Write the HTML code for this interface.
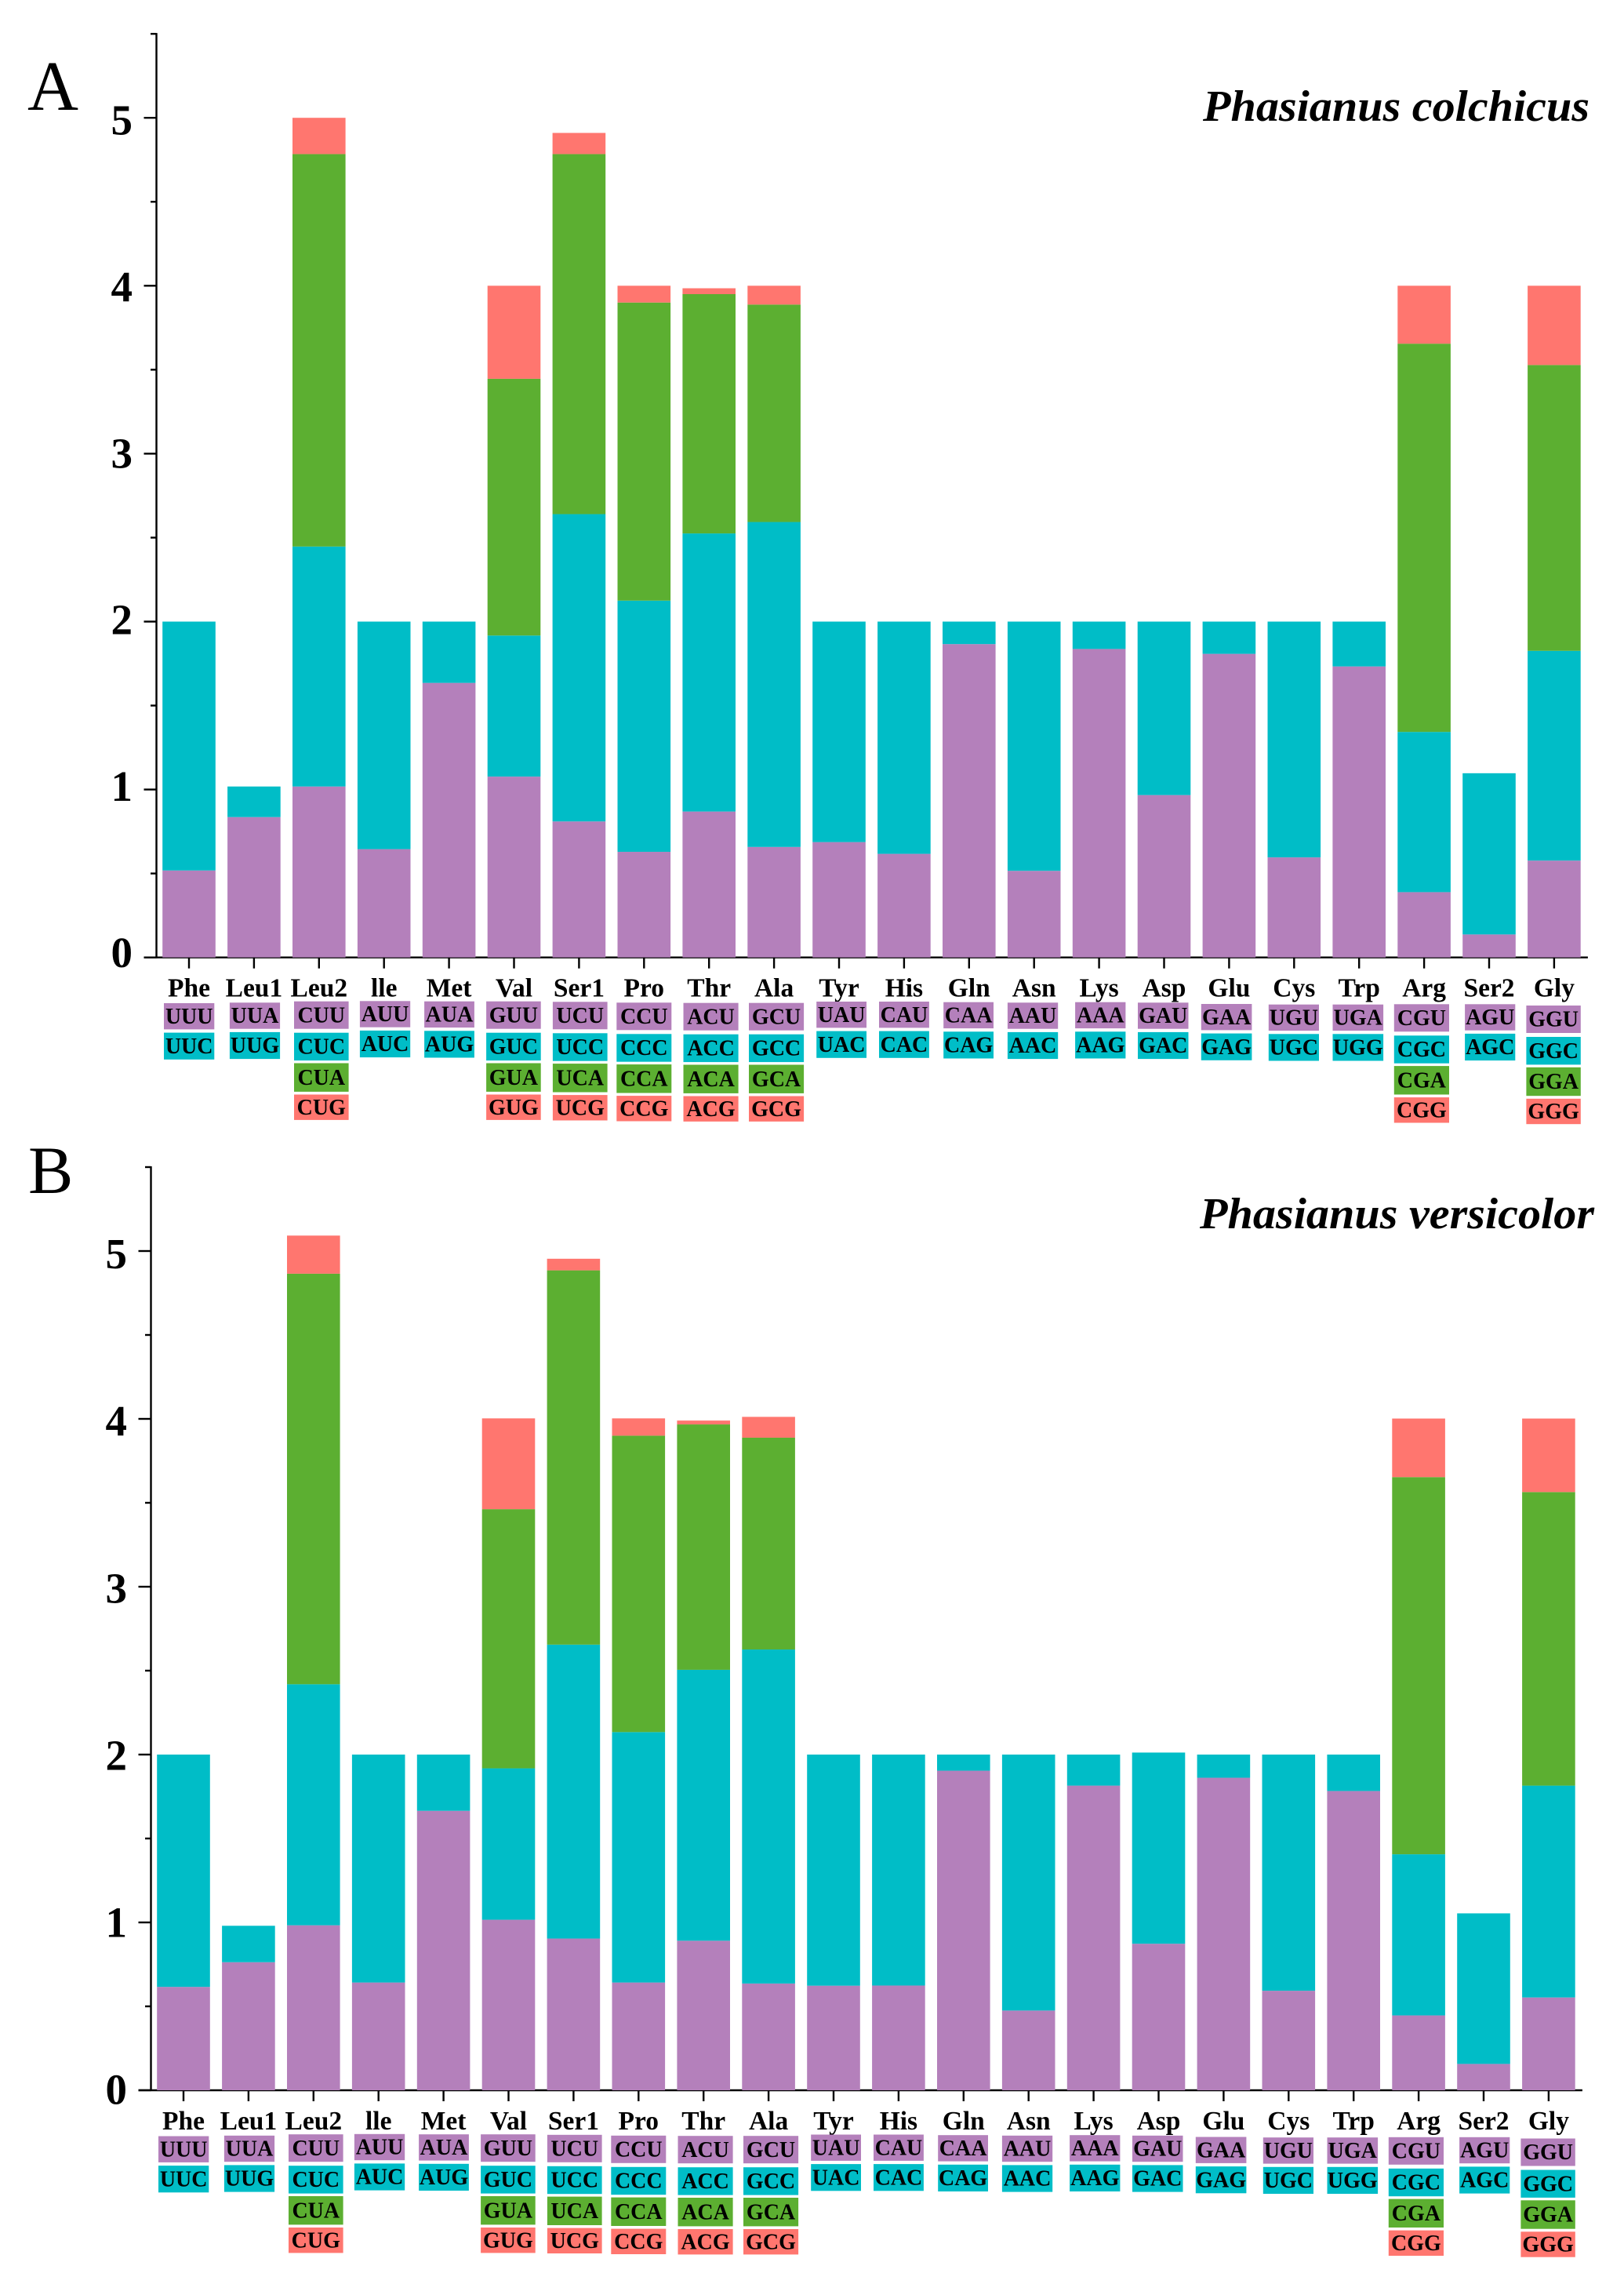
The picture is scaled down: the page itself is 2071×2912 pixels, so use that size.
<!DOCTYPE html>
<html lang="en">
<head>
<meta charset="utf-8">
<title>Relative synonymous codon usage in Phasianus colchicus and Phasianus versicolor</title>
<style>
html,body{margin:0;padding:0;background:#fff;}
svg{display:block;}
text{font-family:"Liberation Serif",serif;fill:#000;}
.axis-stroke{stroke:#000;stroke-width:2.4;}
</style>
</head>
<body>
<svg id="figure" width="2071" height="2912" viewBox="0 0 2071 2912" xmlns="http://www.w3.org/2000/svg">
  <rect x="0" y="0" width="2071" height="2912" fill="#fff"/>
  <text x="35" y="140" font-size="90">A</text>
  <text x="1534" y="154" font-size="56" font-weight="bold" font-style="italic" textLength="493" lengthAdjust="spacingAndGlyphs">Phasianus colchicus</text>
  <g id="panel-a"></g>
  <text x="36" y="1521" font-size="86">B</text>
  <text x="1530" y="1566" font-size="56" font-weight="bold" font-style="italic" textLength="503" lengthAdjust="spacingAndGlyphs">Phasianus versicolor</text>
  <g id="panel-b"></g>
</svg>
<script>
// ---------- Data ----------
const categories = ["Phe","Leu1","Leu2","lle","Met","Val","Ser1","Pro","Thr","Ala","Tyr","His","Gln","Asn","Lys","Asp","Glu","Cys","Trp","Arg","Ser2","Gly"];
const codons = [
  ["UUU","UUC"],["UUA","UUG"],["CUU","CUC","CUA","CUG"],["AUU","AUC"],["AUA","AUG"],
  ["GUU","GUC","GUA","GUG"],["UCU","UCC","UCA","UCG"],["CCU","CCC","CCA","CCG"],
  ["ACU","ACC","ACA","ACG"],["GCU","GCC","GCA","GCG"],["UAU","UAC"],["CAU","CAC"],
  ["CAA","CAG"],["AAU","AAC"],["AAA","AAG"],["GAU","GAC"],["GAA","GAG"],["UGU","UGC"],
  ["UGA","UGG"],["CGU","CGC","CGA","CGG"],["AGU","AGC"],["GGU","GGC","GGA","GGG"]
];
const yTickLabels = ["0","1","2","3","4","5"];

// Panel A: Phasianus colchicus, RSCU by stacked codon position
const colchicusFirst  = [0.518,0.836,1.018,0.645,1.635,1.077,0.810,0.629,0.869,0.658,0.687,0.617,1.866,0.516,1.837,0.967,1.808,0.596,1.733,0.389,0.137,0.577];
const colchicusSecond = [1.482,0.182,1.429,1.355,0.365,0.840,1.830,1.496,1.656,1.935,1.313,1.383,0.134,1.484,0.163,1.033,0.192,1.404,0.267,0.954,0.960,1.249];
const colchicusThird  = [0,0,2.337,0,0,1.529,2.144,1.775,1.425,1.295,0,0,0,0,0,0,0,0,0,2.312,0,1.702];
const colchicusFourth = [0,0,0.216,0,0,0.554,0.126,0.100,0.035,0.112,0,0,0,0,0,0,0,0,0,0.345,0,0.472];

// Panel B: Phasianus versicolor, RSCU by stacked codon position
const versicolorFirst  = [0.616,0.763,0.983,0.642,1.665,1.016,0.904,0.642,0.891,0.636,0.623,0.624,1.904,0.475,1.815,0.873,1.862,0.593,1.783,0.446,0.157,0.553];
const versicolorSecond = [1.384,0.217,1.436,1.358,0.335,0.902,1.751,1.492,1.614,1.990,1.377,1.376,0.096,1.525,0.185,1.139,0.138,1.407,0.217,0.960,0.897,1.262];
const versicolorThird  = [0,0,2.446,0,0,1.544,2.230,1.766,1.462,1.262,0,0,0,0,0,0,0,0,0,2.247,0,1.749];
const versicolorFourth = [0,0,0.227,0,0,0.541,0.069,0.103,0.023,0.124,0,0,0,0,0,0,0,0,0,0.349,0,0.438];

// ---------- Presentation ----------
const SVGNS = "http://www.w3.org/2000/svg";
const segmentColors = ["#b480bb","#00bdc7","#5caf31","#ff766f"];
const segmentNames = ["first","second","third","fourth"];
// Hand-placed look of the codon chips in the source figure: [left, width, top] at panel A origin.
const chipPlacement = [
  [209,64.3,1279],[292.9,64.2,1278.3],[375,69.6,1276.7],[458.9,64.3,1276.3],[541.1,63.8,1276.7],
  [620.1,69.6,1276.7],[704.9,69.7,1277.3],[786.3,70,1278.3],[871.5,70.1,1278.7],[955,70.1,1278.7],
  [1041.2,63.8,1277],[1121,63.9,1277],[1203.2,63.8,1277.7],[1284.9,64.3,1278.3],[1371.1,64.3,1277.7],
  [1451,64.5,1278.3],[1531.8,64.6,1280],[1617.8,64.2,1280.7],[1699.5,64.6,1280.7],[1777.8,70.2,1280.3],
  [1868.1,64.2,1280.3],[1946.4,69.4,1282]
];
const chipRowsPair = [[0,33.4],[37.6,34.2]];
const chipRowsQuad = [[0,35],[40,35.4],[78.8,36.4],[118.8,32.4]];

function el(parent, tag, attrs, text) {
  const node = document.createElementNS(SVGNS, tag);
  for (const key in attrs) node.setAttribute(key, attrs[key]);
  if (text !== undefined) node.textContent = text;
  parent.appendChild(node);
  return node;
}

function renderPanel(root, cfg) {
  const y = v => cfg.y0 - v * cfg.unit;
  const xCenter = i => cfg.x0 + i * cfg.step;
  const axisX = cfg.x0 - 41.5;

  // Axes
  const yAxis = el(root, "line", {x1: axisX, x2: axisX, y1: y(5.5) - 1, y2: y(0) + 1, class: "axis-stroke"});
  
  
  const xAxis = el(root, "line", {x1: axisX - 16, x2: xCenter(categories.length - 1) + 43, y1: y(0), y2: y(0), class: "axis-stroke"});
  
  

  // Y ticks (major on integers, minor on halves)
  for (let t = 0; t <= 11; t++) {
    const value = t / 2;
    const major = t % 2 === 0;
    const tick = el(root, "line", {x1: axisX - (major ? 16 : 7.5), x2: axisX, y1: y(value), y2: y(value), class: "axis-stroke"});
    
    
  }
  yTickLabels.forEach(label => {
    const v = Number(label);
    const t = el(root, "text", {x: axisX - 30.5, y: y(v) + cfg.digitBase + v * cfg.digitDrift, "text-anchor": "end", "font-size": 55, "font-weight": "bold"}, label);
    
    
  });

  // Stacked bars, drawn from the series arrays
  categories.forEach((name, i) => {
    const group = el(root, "g", {});
    
    
    let base = 0;
    cfg.series.forEach((values, s) => {
      const v = values[i];
      if (v <= 0) return;
      const seg = el(group, "rect", {x: xCenter(i) - cfg.barW / 2, y: y(base + v), width: cfg.barW, height: y(base) - y(base + v), fill: segmentColors[s]});
      
      
      base += v;
    });

    const tick = el(root, "line", {x1: xCenter(i), x2: xCenter(i), y1: y(0), y2: y(0) + 14, class: "axis-stroke"});
    
    

    const label = el(root, "text", {x: xCenter(i), y: y(0) + 50, "text-anchor": "middle", "font-size": 33.5, "font-weight": "bold"}, name);
    
    

    // Codon chips under each amino acid
    const place = chipPlacement[i];
    const rows = codons[i].length === 4 ? chipRowsQuad : chipRowsPair;
    codons[i].forEach((codon, c) => {
      const top = place[2] + cfg.dy + rows[c][0];
      const chip = el(root, "rect", {x: place[0] + cfg.dx, y: top, width: place[1], height: rows[c][1], fill: segmentColors[c]});
      
      
      const txt = el(root, "text", {x: place[0] + cfg.dx + place[1] / 2, y: top + rows[c][1] / 2 + 9.2, "text-anchor": "middle", "font-size": 28, "font-weight": "bold"}, codon);
      
      
    });
  });
}

renderPanel(document.getElementById("panel-a"), {
  x0: 241, step: 82.9, barW: 67.6, y0: 1220.7, unit: 214.1, dx: 0, dy: 0, digitBase: 12.5, digitDrift: 1.8,
  series: [colchicusFirst, colchicusSecond, colchicusThird, colchicusFourth]
});
renderPanel(document.getElementById("panel-b"), {
  x0: 234, step: 82.9, barW: 67.6, y0: 2665, unit: 214, dx: -7, dy: 1444.5, digitBase: 17.7, digitDrift: 0.86,
  series: [versicolorFirst, versicolorSecond, versicolorThird, versicolorFourth]
});
</script>
</body>
</html>
